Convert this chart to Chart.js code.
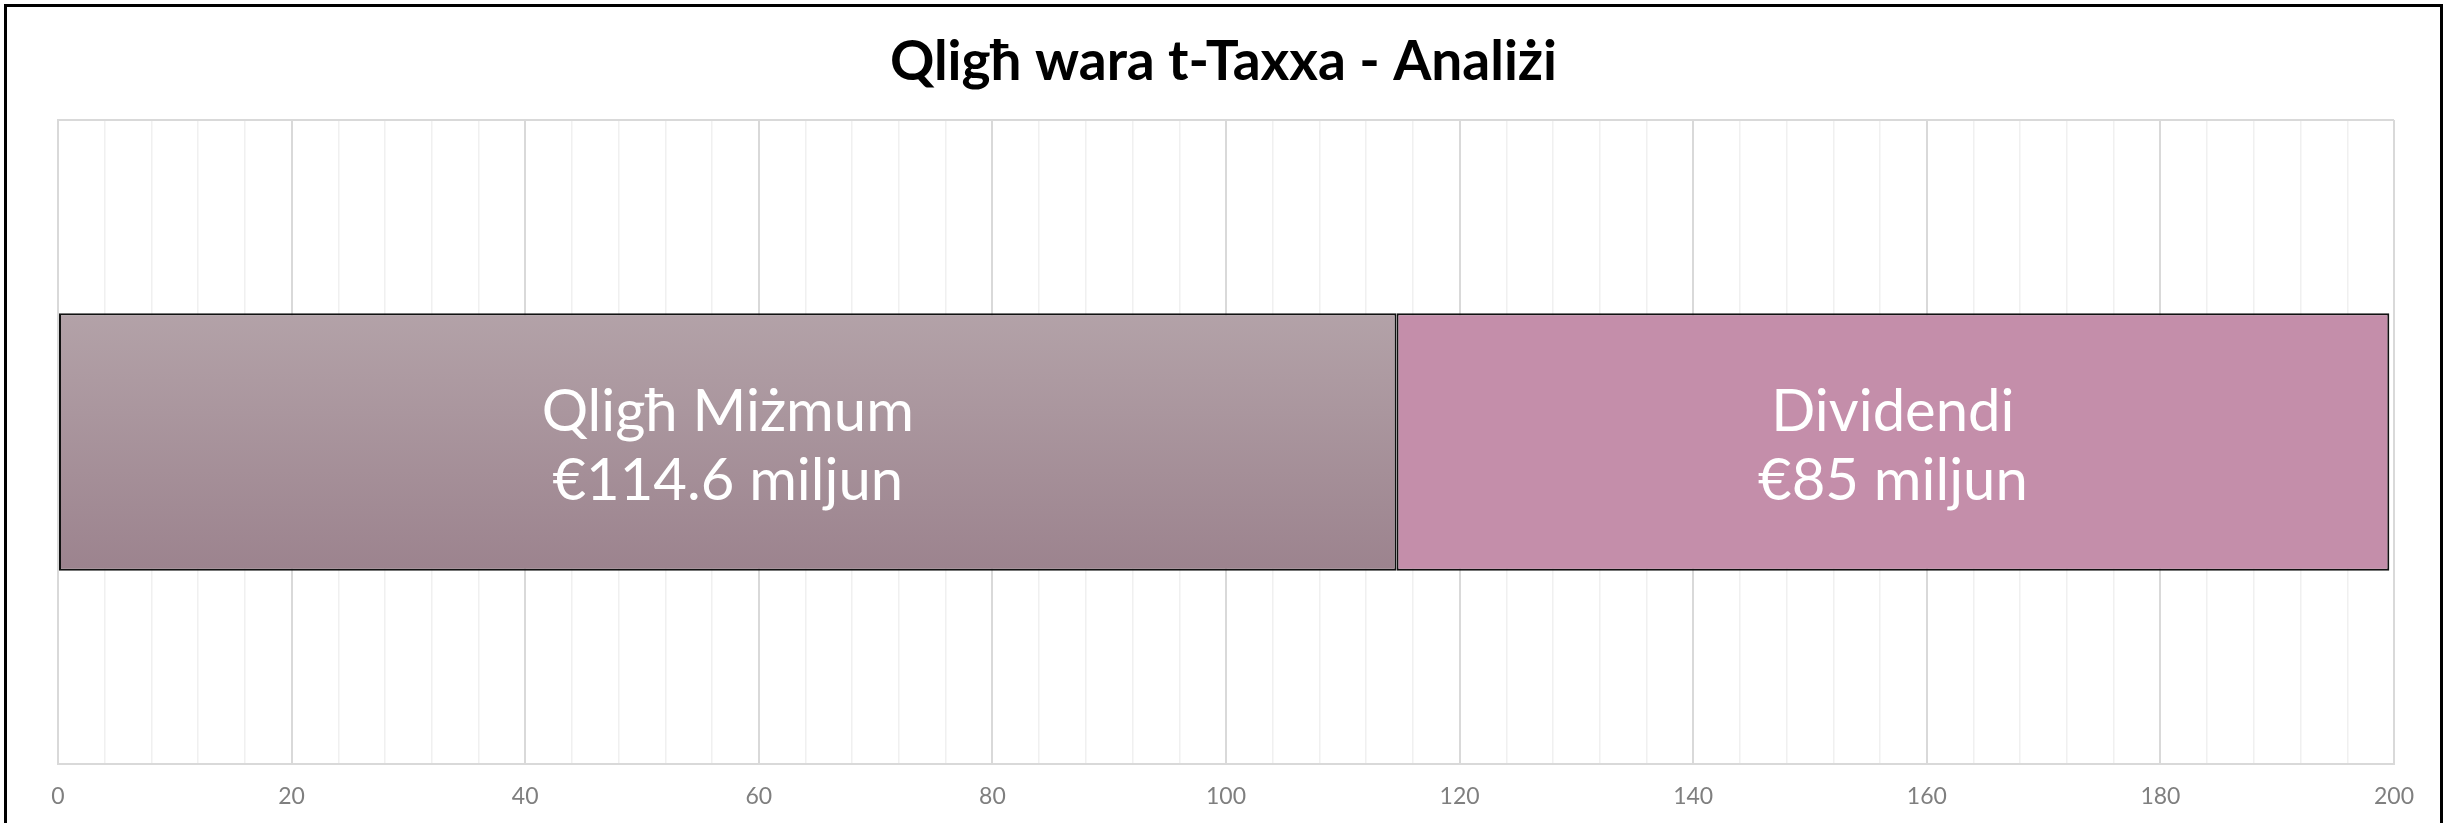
<!DOCTYPE html>
<html>

<head>
  <title>Qligħ wara t-Taxxa - Analiżi</title>
  <style>
    html, body { margin: 0; padding: 0; background: #fff; overflow: hidden; }
  </style>
</head>

<body>
  <canvas id="chart" width="2447" height="823"></canvas>
  <script src="https://cdn.jsdelivr.net/npm/chart.js"></script>
  <script>
    // data
    const categories = ['1'];
    const seriesNames = ['Qligħ Miżmum', 'Dividendi'];
    const seriesValues = [114.6, 85];
    const valueLabels = ['€114.6 miljun', '€85 miljun'];
    const xTicks = [0, 20, 40, 60, 80, 100, 120, 140, 160, 180, 200];

    const barPct = 0.4;

    function gradientFill(context) {
      const chart = context.chart;
      const y = chart.scales.y;
      if (!y || !chart.chartArea) return '#a8949b';
      const mid = y.getPixelForValue(0);
      const half = y.height * barPct / 2;
      const g = chart.ctx.createLinearGradient(0, mid - half, 0, mid + half);
      g.addColorStop(0, '#b3a2a8');
      g.addColorStop(1, '#9c838e');
      return g;
    }

    // labels inside the bars
    const insideLabels = {
      id: 'insideLabels',
      afterDatasetsDraw(chart) {
        const ctx = chart.ctx;
        ctx.save();
        ctx.fillStyle = '#ffffff';
        ctx.font = '58px Lato';
        ctx.textAlign = 'center';
        ctx.textBaseline = 'middle';
        chart.data.datasets.forEach((ds, i) => {
          const bar = chart.getDatasetMeta(i).data[0];
          const cx = (bar.x + bar.base) / 2;
          ctx.fillText(seriesNames[i], cx, bar.y - 30);
          ctx.fillText(valueLabels[i], cx, bar.y + 39);
        });
        ctx.restore();
      }
    };

    const frame = {
      id: 'frame',
      afterDraw(chart) {
        const ctx = chart.ctx;
        ctx.save();
        ctx.strokeStyle = '#000';
        ctx.lineWidth = 3;
        ctx.strokeRect(5.5, 5.5, 2436, 840);
        ctx.restore();
      }
    };

    const ctx = document.getElementById('chart').getContext('2d');
    const barGraph = new Chart(ctx, {
      type: 'bar',
      data: {
        labels: categories,
        datasets: [
          {
            label: seriesNames[0],
            data: [seriesValues[0]],
            backgroundColor: gradientFill,
            borderColor: '#111',
            borderWidth: 2,
            borderSkipped: false
          },
          {
            label: seriesNames[1],
            data: [seriesValues[1]],
            backgroundColor: '#c48eaa',
            borderColor: '#111',
            borderWidth: 2,
            borderSkipped: false
          }
        ]
      },
      options: {
        indexAxis: 'y',
        responsive: false,
        maintainAspectRatio: false,
        animation: false,
        devicePixelRatio: 1,
        categoryPercentage: 1,
        barPercentage: barPct,
        layout: { padding: { left: 53, right: 53, top: 0, bottom: 0 } },
        plugins: {
          legend: { display: false },
          tooltip: { enabled: false },
          title: {
            display: true,
            text: 'Qligħ wara t-Taxxa - Analiżi',
            color: '#000',
            font: { family: 'Lato', size: 55, weight: 'bold' },
            padding: { top: 29, bottom: 25 }
          }
        },
        scales: {
          x: {
            stacked: true,
            min: 0,
            max: 200,
            afterFit(scale) { scale.height = 59; },
            afterBuildTicks(scale) {
              const t = [];
              for (let v = 0; v <= 200; v += 4) t.push({ value: v });
              scale.ticks = t;
            },
            ticks: {
              autoSkip: false,
              maxRotation: 0,
              padding: 19,
              color: '#7f7f7f',
              font: { family: 'Lato', size: 23 },
              callback: (v) => xTicks.includes(v) ? v : ''
            },
            grid: {
              drawTicks: false,
              color: (c) => (c.tick && c.tick.value % 20 === 0) ? '#d9d9d9' : '#f0f0f0',
              lineWidth: (c) => (c.tick && c.tick.value % 20 === 0) ? 2 : 1.5
            },
            border: { color: '#d9d9d9', width: 2 }
          },
          y: {
            stacked: true,
            afterFit(scale) { scale.width = 5; },
            ticks: {
              padding: 25,
              color: '#7f7f7f',
              font: { family: 'Lato', size: 19 }
            },
            grid: { drawTicks: false, color: '#d9d9d9', lineWidth: 2 },
            border: { color: '#d9d9d9', width: 2 }
          }
        }
      },
      plugins: [insideLabels, frame]
    });
  </script>
</body>

</html>
